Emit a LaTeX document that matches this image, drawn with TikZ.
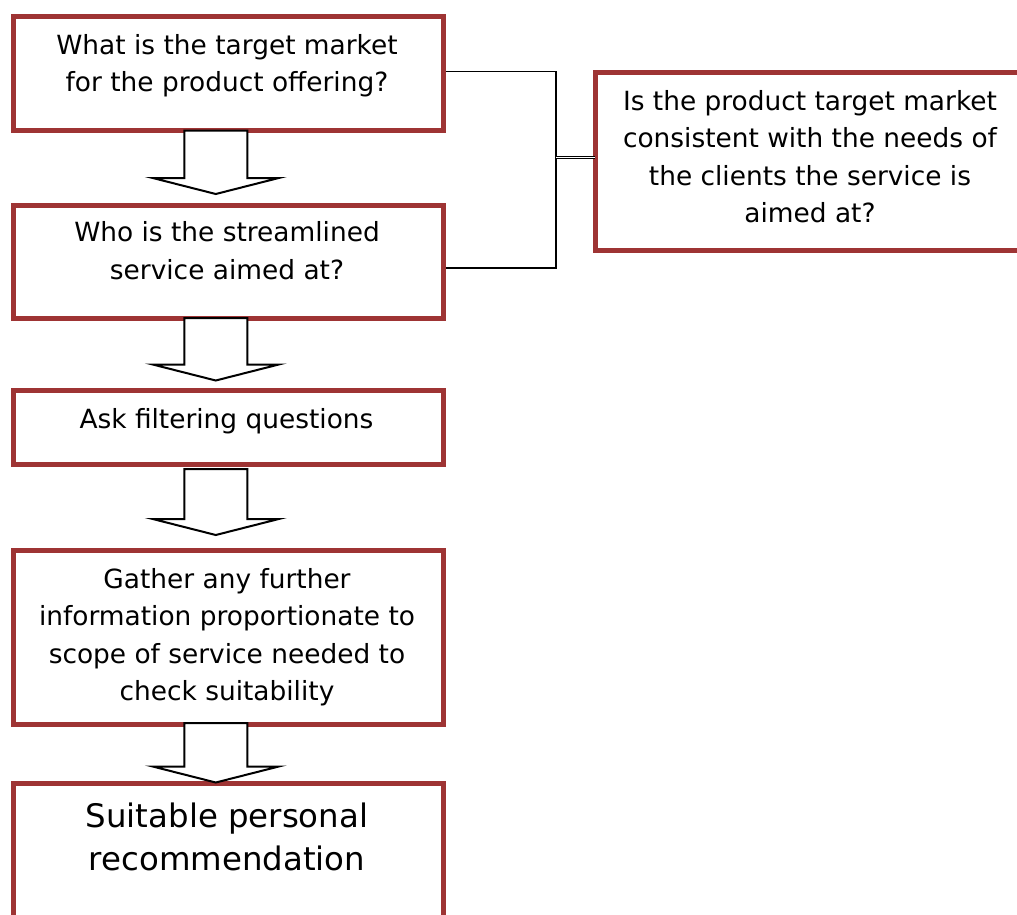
\documentclass[tikz,border=0pt]{standalone}
\usepackage{fontspec}
\setmainfont{DejaVu Sans}
\usetikzlibrary{calc}
\definecolor{boxred}{RGB}{158,52,52}
\newcommand\flowarr[2]{%
  \path[barrow] let \p1=(#1), \p2=(#2) in
    (\x2-31.5pt,\y1) -- (\x2-31.5pt,\y2+16pt) -- (\x2-63pt,\y2+16pt) -- (\x2,\y2)
    -- (\x2+63pt,\y2+16pt) -- (\x2+31.5pt,\y2+16pt) -- (\x2+31.5pt,\y1) -- cycle;}
\begin{document}
\begin{tikzpicture}[x=1pt,y=-1pt,
  box/.style={draw=boxred, line width=5pt, fill=white, inner sep=0pt, outer sep=0pt},
  txt/.style={anchor=base, inner sep=0pt, outer sep=0pt, font=\fontsize{26.4}{37.5}\selectfont},
  bigtxt/.style={txt, font=\fontsize{32.4}{42.3}\selectfont},
  link/.style={draw=black, line width=1.5pt},
  barrow/.style={draw=black, line width=2pt, fill=white, line join=miter}]
\useasboundingbox (0,0) rectangle (1017,914);
\clip (0,0) rectangle (1017,914);
% boxes
\node[box, minimum width=430.5pt, minimum height=114pt]   (b1) at (228.25,73.5) {};
\node[box, minimum width=430.5pt, minimum height=113pt]   (b2) at (228.25,261.5) {};
\node[box, minimum width=430.5pt, minimum height=74pt]    (b3) at (228.25,427) {};
\node[box, minimum width=430.5pt, minimum height=173.5pt] (b4) at (228.25,637.25) {};
\node[box, minimum width=430.5pt, minimum height=151.5pt] (b5) at (228.25,859.25) {};
\node[box, minimum width=435pt, minimum height=178pt]     (r)  at (812.5,161) {};
% texts
\node[txt] (t1) at (227,54) {\parbox[t]{440pt}{\centering What is the target market\\for the product offering?}};
\node[txt] (t2) at (227,241.7) {\parbox[t]{440pt}{\centering Who is the streamlined\\service aimed at?}};
\node[txt] (t3) at (226.5,428) {\parbox[t]{440pt}{\centering Ask filtering questions}};
\node[txt] (t4) at (227,588) {\parbox[t]{440pt}{\centering Gather any further\\information proportionate to\\scope of service needed to\\check suitability}};
\node[bigtxt] (t5) at (227,827.7) {\parbox[t]{440pt}{\centering Suitable personal\\recommendation}};
\node[txt] (tr) at (810,110) {\parbox[t]{440pt}{\centering Is the product target market\\consistent with the needs of\\the clients the service is\\aimed at?}};
% connectors
\coordinate (J) at (556,157.5);
\draw[link] ([xshift=2.5pt,yshift=1.8pt]b1.east) -| (J);
\draw[link] ([xshift=2.5pt,yshift=-6.5pt]b2.east) -| (J);
\draw[link, line width=1pt, double, double distance=1.5pt] (J) -- (J -| r.west);
% block arrows
\flowarr{b1.south}{$(b2.north)+(-12.5,-11)$}
\flowarr{b2.south}{$(b3.north)+(-12.5,-9.5)$}
\flowarr{$(b3.south)+(0,5)$}{$(b4.north)+(-12.5,-15.5)$}
\flowarr{$(b4.south)+(0,-1)$}{$(b5.north)+(-12.5,-1)$}
\end{tikzpicture}
\end{document}
